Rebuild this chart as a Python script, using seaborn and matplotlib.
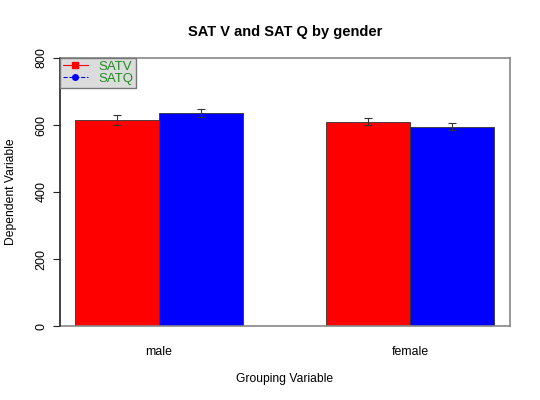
import pandas as pd
import seaborn as sns
import matplotlib.pyplot as plt
from matplotlib.lines import Line2D

# values
genders = ["male", "female"]
tests = ["SATV", "SATQ"]
satv_means = [615, 610]
satq_means = [636, 595]
satv_err = [15, 10]
satq_err = [13, 11]

df = pd.DataFrame({
    "gender": genders * 2,
    "test": ["SATV"] * 2 + ["SATQ"] * 2,
    "score": satv_means + satq_means,
    "err": satv_err + satq_err,
})

sns.set_style("white")
plt.rcParams["font.family"] = ["Liberation Sans", "DejaVu Sans"]
plt.rcParams.update({"text.color": "black", "axes.labelcolor": "black",
                     "xtick.color": "black", "ytick.color": "black"})

fig = plt.figure(figsize=(5.4, 4), dpi=100)
ax = fig.add_axes([0.111, 0.185, 0.833, 0.67])

sns.barplot(data=df, x="gender", y="score", hue="test", hue_order=tests,
            order=genders, palette=["#ff0000", "#0000ff"], saturation=1,
            width=0.67, errorbar=None, edgecolor="#333333", linewidth=0.6,
            legend=False, ax=ax)

# error bars on top of each bar
for cont, t in zip(ax.containers, tests):
    sub = df[df["test"] == t].set_index("gender").loc[genders]
    xs = [p.get_x() + p.get_width() / 2 for p in cont.patches]
    ax.errorbar(xs, sub["score"], yerr=sub["err"], fmt="none",
                ecolor="#333333", elinewidth=0.8, capsize=3, capthick=0.8)

ax.set_xlim(-0.394, 1.398)
ax.set_ylim(0, 800)
ax.set_yticks([0, 200, 400, 600, 800])
ax.set_yticklabels(["0", "200", "400", "600", "800"], rotation=90,
                   va="center", fontsize=9)
ax.tick_params(axis="y", left=True, length=5, width=0.8, color="#222222", pad=4)
ax.tick_params(axis="x", bottom=False, labelsize=8.8, pad=11)

for side in ["top", "right", "bottom"]:
    ax.spines[side].set_color("#888888")
    ax.spines[side].set_linewidth(1.2)
ax.spines["left"].set_visible(False)
ax.plot([-0.394, -0.394], [0, 800], color="#222222", lw=1.2,
        clip_on=False, zorder=5)

ax.set_xlabel("Grouping Variable", fontsize=8.7, labelpad=11)
ax.set_ylabel("Dependent Variable", fontsize=8.7, labelpad=13)
ax.set_title("SAT V and SAT Q by gender", fontsize=10.5, fontweight="bold", pad=16)

handles = [
    Line2D([0], [0], color="#ff0000", lw=0.8, marker="s", markersize=4),
    Line2D([0], [0], color="#0000ff", lw=0.8, ls="--", marker="o", markersize=4),
]
leg = ax.legend(handles, tests, loc="upper left", bbox_to_anchor=(0, 1),
                borderaxespad=0, frameon=True, fancybox=False, fontsize=9.5,
                handlelength=1.9, handletextpad=0.8, labelspacing=0.0,
                borderpad=0.2, labelcolor="#228b22")
leg.get_frame().set_facecolor("#dcdcdc")
leg.get_frame().set_edgecolor("#777777")
leg.get_frame().set_linewidth(1.0)
leg.get_frame().set_alpha(1)

fig.savefig("out.png", dpi=100)
